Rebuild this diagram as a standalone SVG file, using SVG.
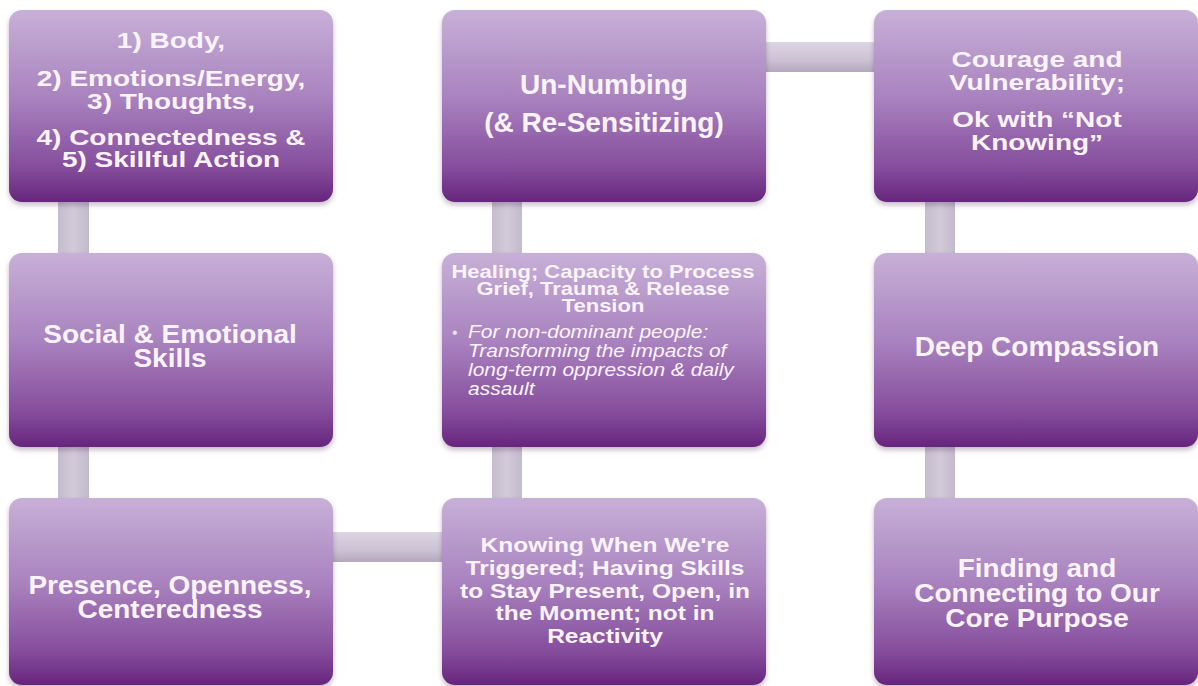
<svg xmlns="http://www.w3.org/2000/svg" width="1198" height="686" viewBox="0 0 1198 686">
<defs>
<linearGradient id="boxg" x1="0" y1="0" x2="0" y2="1">
<stop offset="0" stop-color="#c7b0d7"/>
<stop offset="0.45" stop-color="#a983bf"/>
<stop offset="0.82" stop-color="#854d9c"/>
<stop offset="1" stop-color="#66257d"/>
</linearGradient>
<linearGradient id="hg" x1="0" y1="0" x2="0" y2="1">
<stop offset="0" stop-color="#dcd5e2"/>
<stop offset="0.6" stop-color="#cbc2d3"/>
<stop offset="1" stop-color="#b3a8bd"/>
</linearGradient>
<linearGradient id="vg" x1="0" y1="0" x2="1" y2="0">
<stop offset="0" stop-color="#c5bccd"/>
<stop offset="0.5" stop-color="#d2cad9"/>
<stop offset="1" stop-color="#c3bacb"/>
</linearGradient>
<filter id="sh" x="-5%" y="-5%" width="110%" height="115%">
<feDropShadow dx="0" dy="3" stdDeviation="2.5" flood-color="#3c2048" flood-opacity="0.3"/>
</filter>
</defs>
<style>
.box{fill:url(#boxg);filter:url(#sh)}
.t{font-family:"Liberation Sans",Arial,sans-serif;font-weight:bold;font-size:28px;fill:#fbf3fc;text-anchor:middle}
.s{font-family:"Liberation Sans",Arial,sans-serif;font-weight:bold;font-size:22px;fill:#fbf3fc;text-anchor:middle}
.i{font-family:"Liberation Sans",Arial,sans-serif;font-style:italic;font-size:21px;fill:#fbf3fc}
.b{font-family:"Liberation Sans",Arial,sans-serif;font-size:16px;fill:#eadcf0}
</style>
<rect width="1198" height="686" fill="#ffffff"/>
<g id="connectors">
<rect x="58" y="195" width="31" height="65" fill="url(#vg)"/>
<rect x="58" y="440" width="31" height="65" fill="url(#vg)"/>
<rect x="325" y="532" width="124" height="30" fill="url(#hg)"/>
<rect x="492" y="440" width="30" height="65" fill="url(#vg)"/>
<rect x="492" y="195" width="30" height="65" fill="url(#vg)"/>
<rect x="759" y="42" width="122" height="30" fill="url(#hg)"/>
<rect x="925" y="195" width="30" height="65" fill="url(#vg)"/>
<rect x="925" y="440" width="30" height="65" fill="url(#vg)"/>
</g>
<g id="n1">
<rect class="box" x="9" y="10" width="324" height="192" rx="13"/>
<text class="t" transform="translate(171 48) scale(1 0.77)">1) Body,</text>
<text class="t" transform="translate(171 86) scale(1 0.77)">2) Emotions/Energy,</text>
<text class="t" transform="translate(171 109) scale(1 0.77)">3) Thoughts,</text>
<text class="t" transform="translate(171 145) scale(1 0.77)">4) Connectedness &amp;</text>
<text class="t" transform="translate(171 167) scale(1 0.77)">5) Skillful Action</text>
</g>
<g id="n2">
<rect class="box" x="442" y="10" width="324" height="192" rx="13"/>
<text class="t" x="604" y="94">Un-Numbing</text>
<text class="t" x="604" y="132">(&amp; Re-Sensitizing)</text>
</g>
<g id="n3">
<rect class="box" x="874" y="10" width="324" height="192" rx="13"/>
<text class="t" transform="translate(1037 67) scale(1 0.78)">Courage and</text>
<text class="t" transform="translate(1037 90) scale(1 0.78)">Vulnerability;</text>
<text class="t" transform="translate(1037 127) scale(1 0.78)">Ok with “Not</text>
<text class="t" transform="translate(1037 150) scale(1 0.78)">Knowing”</text>
</g>
<g id="n4">
<rect class="box" x="9" y="253" width="324" height="194" rx="13"/>
<text class="t" transform="translate(170 343) scale(1 0.92)">Social &amp; Emotional</text>
<text class="t" transform="translate(170 367) scale(1 0.92)">Skills</text>
</g>
<g id="n5">
<rect class="box" x="442" y="253" width="324" height="194" rx="13"/>
<text class="s" transform="translate(603 278) scale(1 0.82)">Healing; Capacity to Process</text>
<text class="s" transform="translate(603 295) scale(1 0.82)">Grief, Trauma &amp; Release</text>
<text class="s" transform="translate(603 312) scale(1 0.82)">Tension</text>
<text class="b" x="452" y="338">•</text>
<text class="i" transform="translate(468 338) scale(1 0.85)">For non-dominant people:</text>
<text class="i" transform="translate(468 357) scale(1 0.85)">Transforming the impacts of</text>
<text class="i" transform="translate(468 376) scale(1 0.85)">long-term oppression &amp; daily</text>
<text class="i" transform="translate(468 395) scale(1 0.85)">assault</text>
</g>
<g id="n6">
<rect class="box" x="874" y="253" width="324" height="194" rx="13"/>
<text class="t" x="1037" y="356">Deep Compassion</text>
</g>
<g id="n7">
<rect class="box" x="9" y="498" width="324" height="187" rx="13"/>
<text class="t" transform="translate(170 594) scale(1 0.92)">Presence, Openness,</text>
<text class="t" transform="translate(170 618) scale(1 0.92)">Centeredness</text>
</g>
<g id="n8">
<rect class="box" x="442" y="498" width="324" height="187" rx="13"/>
<text class="t" style="font-size:24.5px" transform="translate(605 552) scale(1 0.8)">Knowing When We're</text>
<text class="t" style="font-size:24.5px" transform="translate(605 575) scale(1 0.8)">Triggered; Having Skills</text>
<text class="t" style="font-size:24.5px" transform="translate(605 598) scale(1 0.8)">to Stay Present, Open, in</text>
<text class="t" style="font-size:24.5px" transform="translate(605 620) scale(1 0.8)">the Moment; not in</text>
<text class="t" style="font-size:24.5px" transform="translate(605 643) scale(1 0.8)">Reactivity</text>
</g>
<g id="n9">
<rect class="box" x="874" y="498" width="324" height="187" rx="13"/>
<text class="t" transform="translate(1037 577) scale(1 0.94)">Finding and</text>
<text class="t" transform="translate(1037 602) scale(1 0.94)">Connecting to Our</text>
<text class="t" transform="translate(1037 627) scale(1 0.94)">Core Purpose</text>
</g>
</svg>
